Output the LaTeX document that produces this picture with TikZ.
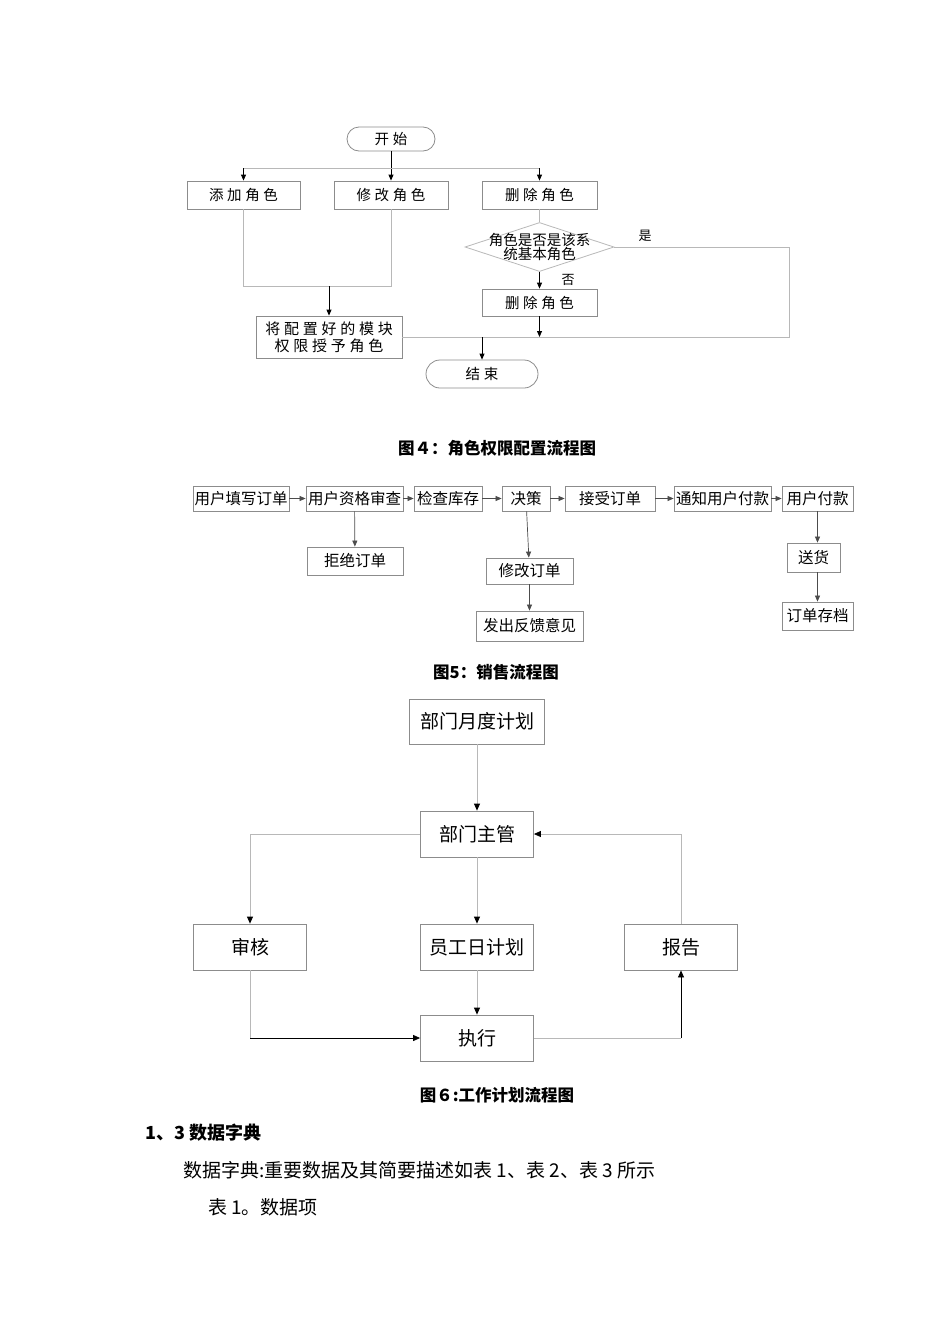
\documentclass[tikz,border=0pt]{standalone}
\usepackage{fontspec}
\setmainfont{Noto Sans CJK SC}
\newfontfamily\spaced{Noto Sans CJK SC}[LetterSpace=25]
\usepackage{xcolor}
\usetikzlibrary{arrows.meta,positioning,calc,shapes.geometric}
\definecolor{edge}{gray}{0.55}
\definecolor{wire}{gray}{0.72}

\begin{document}
\begin{tikzpicture}[x=1pt,y=-1pt,
  every node/.style={inner sep=0pt},
  boxa/.style={draw=edge,line width=.8pt,minimum height=28pt,font=\spaced\fontsize{14.5}{17}\selectfont},
  termin/.style={boxa,rounded corners=12pt},
  decision/.style={diamond,draw=wire,line width=.8pt,minimum width=149pt,minimum height=49pt},
  boxb/.style={draw=edge,line width=.8pt,minimum height=25pt,font=\fontsize{15.5}{17}\selectfont},
  boxc/.style={draw=edge,line width=.8pt,minimum width=113pt,minimum height=46pt,font=\fontsize{19}{22}\selectfont},
  wirea/.style={draw=wire,line width=.8pt},
  arr/.style={-{Triangle[length=6pt,width=5pt]},line width=.8pt},
  arrb/.style={-{Triangle[length=6pt,width=5pt]},draw=black!70,line width=.7pt},
  arrc/.style={-{Triangle[length=7pt,width=6pt,black]},draw=wire,line width=.8pt},
  figcap/.style={font=\bfseries\fontsize{16.5}{18}\selectfont}]
  \useasboundingbox (0,0) rectangle (950,1344);

  % figure 4
  \node[termin,minimum width=88pt,minimum height=24pt] (start) at (391,139) {开始};
  \node[boxa,minimum width=113pt] (addrole) at (243.5,195) {添加角色};
  \node[boxa,minimum width=114pt] (modrole) at (391,195) {修改角色};
  \node[boxa,minimum width=115pt] (delrole) at (539.5,195) {删除角色};
  \node[decision] (isbase) at (539.5,247) {};
  \node[font=\fontsize{14.5}{14}\selectfont,align=center] (isbasetext) at (isbase) {角色是否是该系\\统基本角色};
  \node[boxa,minimum width=115pt,minimum height=27pt] (delrole2) at (539.5,302.5) {删除角色};
  \node[boxa,minimum width=146pt,minimum height=42pt,align=center,font=\spaced\fontsize{15}{17}\selectfont] (grant) at (329,337) {将配置好的模块\\权限授予角色};
  \node[termin,minimum width=112pt,minimum height=28pt,rounded corners=14pt] (finish) at (482,374) {结束};
  \node[font=\fontsize{13}{14}\selectfont] (yes) at (645,236) {是};
  \node[font=\fontsize{13}{14}\selectfont] (no) at (568,280) {否};

  \coordinate (fork) at (391,168);
  \coordinate (merge) at (329,286);
  \coordinate (joinR) at (789,337);
  \draw[arr] (start) -- (modrole);
  \draw[wirea] (addrole.north |- fork) -- (delrole.north |- fork);
  \draw[arr] (addrole.north |- fork) -- (addrole.north);
  \draw[arr] (delrole.north |- fork) -- (delrole.north);
  \draw[wirea] (addrole.south) -- (addrole.south |- merge) -- (modrole.south |- merge) -- (modrole.south);
  \draw[arr] (merge) -- (grant.north);
  \draw[wirea] (delrole) -- (isbase);
  \draw[arr] (isbase) -- (delrole2);
  \draw[wirea] (isbase.east) -- (isbase.east -| joinR) -- (joinR) -- (grant.east);
  \draw[arr] (delrole2.south) -- (delrole2.south |- joinR);
  \draw[arr] (finish.north |- joinR) -- (finish.north);

  \node[figcap] (cap4) at (497,448) {图４：角色权限配置流程图};

  % figure 5
  \node[boxb,minimum width=96pt] (fillform) at (241,498.5) {用户填写订单};
  \node[boxb,minimum width=97pt] (vetuser) at (354.5,498.5) {用户资格审查};
  \node[boxb,minimum width=68pt] (stock) at (448,498.5) {检查库存};
  \node[boxb,minimum width=48pt] (decide) at (526,498.5) {决策};
  \node[boxb,minimum width=90pt] (accept) at (610,498.5) {接受订单};
  \node[boxb,minimum width=97pt] (notify) at (722.5,498.5) {通知用户付款};
  \node[boxb,minimum width=71pt] (payment) at (817.5,498.5) {用户付款};
  \node[boxb,minimum width=96pt,minimum height=28pt] (reject) at (355,561) {拒绝订单};
  \node[boxb,minimum width=87pt,minimum height=26pt] (modify) at (529.5,571) {修改订单};
  \node[boxb,minimum width=107pt,minimum height=30pt] (feedback) at (529.5,626) {发出反馈意见};
  \node[boxb,minimum width=53pt,minimum height=29pt] (ship) at (813.5,557.5) {送货};
  \node[boxb,minimum width=71pt,minimum height=28pt] (archive) at (817.5,616) {订单存档};

  \draw[arrb] (fillform) -- (vetuser);
  \draw[arrb] (vetuser) -- (stock);
  \draw[arrb] (stock) -- (decide);
  \draw[arrb] (decide) -- (accept);
  \draw[arrb] (accept) -- (notify);
  \draw[arrb] (notify) -- (payment);
  \draw[arrb] (vetuser) -- (reject);
  \draw[arrb] (decide) -- (modify);
  \draw[arrb] (modify) -- (feedback);
  \draw[arrb] (payment.south) -- (payment.south |- ship.north);
  \draw[arrb] (archive.north |- ship.south) -- (archive.north);

  \node[figcap] (cap5) at (496,672) {图5：销售流程图};

  % figure 6
  \node[boxc,minimum width=135pt,minimum height=45pt] (monthly) at (477,721.5) {部门月度计划};
  \node[boxc] (manager) at (477,834) {部门主管};
  \node[boxc] (review) at (250,947) {审核};
  \node[boxc] (daily) at (477,947) {员工日计划};
  \node[boxc] (report) at (681,947) {报告};
  \node[boxc] (execute) at (477,1038) {执行};

  \draw[arrc] (monthly) -- (manager);
  \draw[arrc] (manager.west) -| (review.north);
  \draw[arrc] (manager) -- (daily);
  \draw[arrc] (daily) -- (execute);
  \draw[wirea] (review.south) -- (review.south |- execute.west);
  \draw[arrc,draw=black] (review.south |- execute.west) -- (execute.west);
  \draw[wirea] (execute.east) -- (execute.east -| report.south);
  \draw[arrc,draw=black] (execute.east -| report.south) -- (report.south);
  \draw[arrc] (report.north) |- (manager.east);

  \node[figcap] (cap6) at (497,1095) {图６:工作计划流程图};

  % text below
  \node[anchor=west,font=\bfseries\fontsize{18}{20}\selectfont] (section) at (145,1133) {1、3 数据字典};
  \node[anchor=west,font=\fontsize{19}{21}\selectfont] (intro) at (183,1170) {数据字典:重要数据及其简要描述如表 1、表 2、表 3 所示};
  \node[anchor=west,font=\fontsize{19}{21}\selectfont] (table1) at (208,1207) {表 1。数据项};
\end{tikzpicture}
\end{document}
